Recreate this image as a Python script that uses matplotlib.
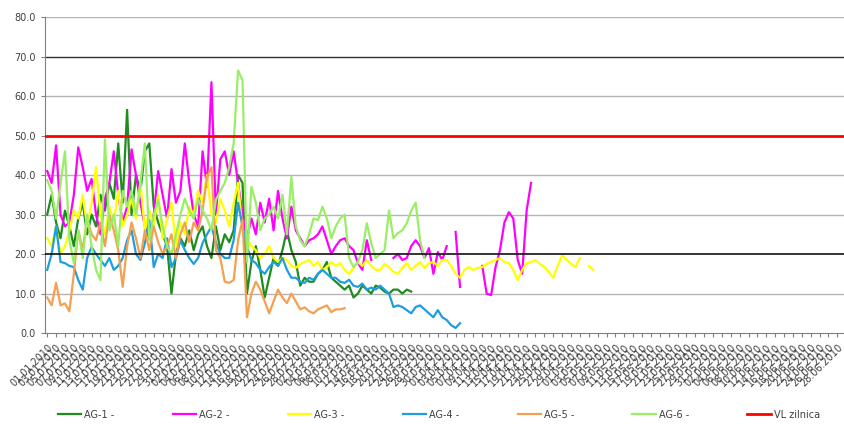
import numpy as np
import pandas as pd
import matplotlib
matplotlib.use("Agg")
import matplotlib.pyplot as plt

# daily categories on the x axis
dates = pd.date_range("2010-01-01", periods=180, freq="D")
tick_labels = [d.strftime("%d.%m.%Y") for d in dates]

nan = None

ag1 = [30, 35, 28, 24, 31, 27, 22, 29, 33, 25, 30, 27, 35, 31, 38, 34, 48, 33, 56.5, 30,
       40, 36, 46, 48, 32, 28, 25, 22, 10, 20, 24, 22, 26, 21, 25, 27, 22, 19, 27, 21,
       25, 23, 26, 40, 38, 10, 18, 22, 16, 9, 14, 19, 17, 21, 26, 21, 18, 12, 14, 13,
       13, 15, 16, 18, 14, 13, 12, 11, 12, 9, 10, 12, 11, 10, 12, 11.5, 10.5, 10, 11, 11,
       10, 11, 10.5]

ag2 = [41, 38, 47.5, 30, 27, 28, 35, 47, 42, 36, 39, 30, 25, 34, 38, 46, 35, 28, 32, 46.5,
       40, 33, 27, 24, 30, 41, 35, 29, 41.5, 33, 36, 48, 38, 30, 27, 46, 37, 63.5, 30, 44,
       46, 40, 46, 38, 30, 24, 29, 25, 33, 28, 34, 26, 36, 29, 24, 32, 26, 24, 22, 23.5,
       24, 25, 27, 23.5, 20, 22, 23.5, 24, 22, 21, 17.7, 16, 23.5, 18.5, nan, nan, nan, nan, 19, 20,
       18.5, 19, 22, 23.5, 22, 19, 21.5, 15, 20.5, 18.5, 22, nan, 25.6, 11.7, nan, nan, nan, nan, 17, 10,
       9.6, 16.7, 21, 28, 30.6, 29, 18.5, 15, 31, 38]

ag3 = [24, 22, 27, 20, 22, 26, 31, 29, 35, 27, 33, 42, 30, 25, 32, 28, 36, 27, 30, 34,
       29, 38, 26, 31, 27, 35, 24, 29, 33, 22, 28, 25, 32, 30, 36, 33, 40, 30, 28, 34,
       31, 27, 33, 38, 26, 24, 22, 21, 19, 20, 22, 19, 18, 19, 18.5, 17, 16.5, 17.5, 18, 18.5,
       17, 18, 16, 16.7, 18, 17, 17.7, 16, 15, 16.5, 18, 17, 18.5, 17, 16, 16, 17.5, 16.7, 15.5, 15,
       16.5, 17.7, 16, 17, 18, 16.5, 17.7, 18, 17, 18.5, 18.5, 17, 15, 14, 16, 16.7, 16, 16.5, 16.7, 17.5,
       18, 18.5, 19, 18, 17.7, 16, 13.4, 16, 17.7, 18, 18.5, 17.5, 16.7, 15.5, 14, 17, 19.7, 18.5, 17.5, 16.7,
       19, nan, 17, 16]

ag4 = [16, 20, 27, 18, 17.7, 17, 16.7, 13.4, 11, 19, 21.8, 20, 18.5, 17, 19, 16, 17, 19, 23.5, 26,
       20, 18.5, 22.8, 28.6, 16.7, 20, 19, 24, 16.7, 19, 23.5, 21, 19, 17.5, 19, 22.8, 25, 27, 23, 20,
       19, 19, 23.5, 33, 27, 22, 18.5, 17.7, 16, 15, 16.7, 18, 17, 19, 16, 14, 14, 13, 12.7, 14,
       13.5, 15, 16, 15, 14, 14, 13, 12.7, 13.5, 12, 11.7, 12.5, 11, 11.5, 11, 12, 11, 10, 6.6, 7,
       6.6, 5.8, 5, 6.6, 7, 6, 5, 4, 5.8, 4, 3.3, 2, 1.3, 2.5]

ag5 = [9, 7, 12.7, 7, 7.5, 5.5, 15, 26, 21, 29, 25, 23.5, 28, 22, 30, 26, 21, 11.7, 22, 28,
       24, 19, 26, 21, 27, 23, 20, 22, 25, 19, 25, 28, 23, 28, 26, 31, 39.5, 42, 21, 19,
       13, 12.7, 13.4, 23.5, 28.6, 4, 10, 13, 11, 8, 5, 8, 11, 9, 7.6, 10, 8, 6, 6.5, 5.5,
       5, 6, 6.5, 7, 5.3, 6, 6, 6.3]

ag6 = [38.7, 36, 29, 38, 46, 23.5, 17.7, 26, 19, 30, 22, 16, 13.4, 49, 26, 30, 22, 36, 32, 36,
       30, 38, 48, 23.5, 30, 33.7, 27, 22, 20, 25, 30, 34, 31, 29, 34, 31, 29, 26, 33.7, 36,
       38, 42, 48, 66.5, 64, 18, 37, 33, 26, 29, 30, 32, 29, 35, 25, 39.5, 27, 23.5, 22, 25,
       29, 28.6, 32, 29, 24, 27, 29, 30, 19, 16.7, 18, 21, 27.8, 22.8, 19, 20, 21, 31, 24, 25.3,
       26, 27.8, 31, 33, 23.5, 19]

vl_zilnica = 50
line_20 = 20
line_70 = 70

names = ["AG-1 -", "AG-2 -", "AG-3 -", "AG-4 -", "AG-5 -", "AG-6 -"]
colors = ["#1e8c1e", "#ff00ff", "#ffff00", "#1e9ee0", "#f5a050", "#99ee66"]
series = [ag1, ag2, ag3, ag4, ag5, ag6]

n = len(dates)


def pad(vals):
    arr = np.full(n, np.nan)
    arr[:len(vals)] = [np.nan if v is None else v for v in vals]
    return arr


fig = plt.figure(figsize=(8.44, 4.32), dpi=100)
ax = fig.add_axes([0.0533, 0.229, 0.9467, 0.7316])

x = np.arange(n)
for g in [10, 30, 40, 60, 80]:
    ax.axhline(g, color="#b4b4b4", lw=1.0, zorder=1)
ax.axhline(line_70, color="#303030", lw=1.0, zorder=1)
ax.axhline(line_20, color="#101010", lw=1.2, zorder=3)

for vals, name, c in zip(series, names, colors):
    ax.plot(x, pad(vals), color=c, lw=1.6, label=name, zorder=2)

ax.axhline(vl_zilnica, color="#ff0000", lw=2.0, label="VL zilnica", zorder=4)

ax.set_xlim(-0.5, n - 0.5)
ax.set_ylim(0, 80)
ax.set_yticks(np.arange(0, 81, 10))
ax.set_yticklabels([f"{v:.1f}" for v in np.arange(0, 81, 10)], fontsize=7, color="#404040")

ax.set_xticks(x[::2])
ax.set_xticklabels(tick_labels[::2], rotation=45, ha="right", rotation_mode="anchor",
                   fontsize=7, color="#404040")
ax.tick_params(axis="both", length=3, color="#808080", width=0.8)

for side in ["top", "right"]:
    ax.spines[side].set_visible(False)
ax.spines["left"].set_color("#808080")
ax.spines["bottom"].set_color("#808080")

fig.legend(loc="center", bbox_to_anchor=(0.52, 0.04), ncol=7, frameon=False,
           fontsize=7, handlelength=2.4, handletextpad=0.3, columnspacing=6.0,
           labelcolor="#404040")

fig.savefig("out.png", dpi=100)
